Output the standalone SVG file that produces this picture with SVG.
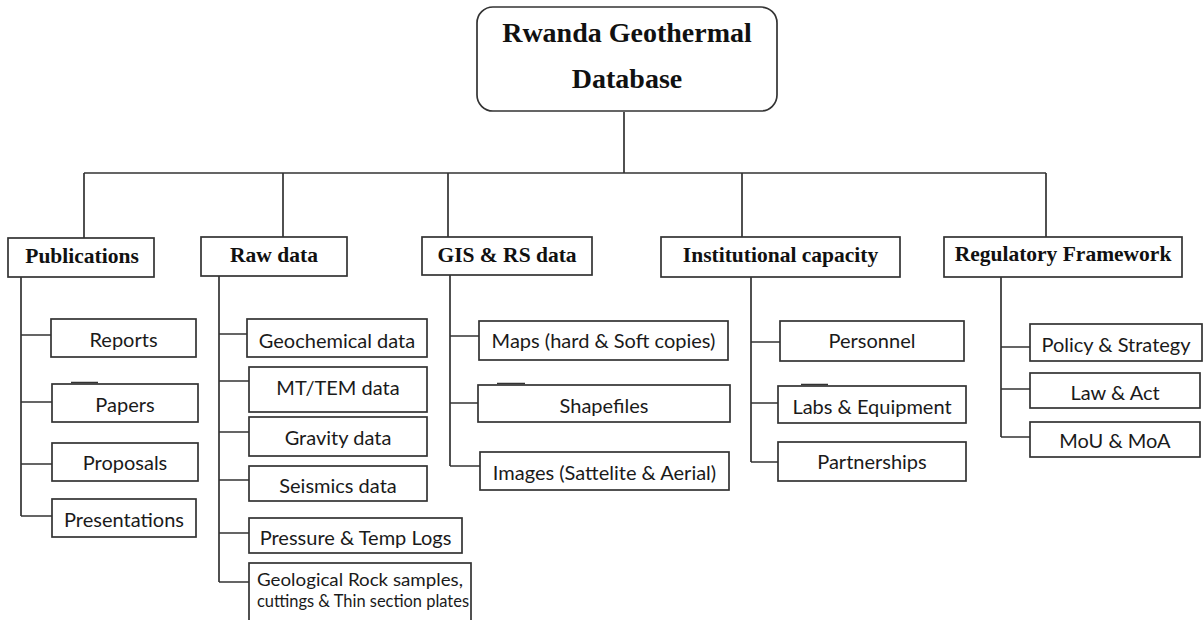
<svg xmlns="http://www.w3.org/2000/svg" width="1203" height="620" viewBox="0 0 1203 620">
<style>
.bg{fill:#ffffff}
.box{fill:#ffffff;stroke:#333333;stroke-width:1.7}
.ln{stroke:#333333;stroke-width:1.7;fill:none}
.title{font-family:"Liberation Serif","Times New Roman",serif;font-weight:bold;font-size:28px;fill:#111;text-anchor:middle}
.hd{font-family:"Liberation Serif","Times New Roman",serif;font-weight:bold;font-size:21.5px;fill:#111;text-anchor:middle}
.it{font-family:Lato,"Open Sans",sans-serif;font-size:20px;fill:#1a1a1a;text-anchor:middle}
.itl{font-family:Lato,"Open Sans",sans-serif;font-size:17px;fill:#1a1a1a}
</style>
<rect class="bg" x="0" y="0" width="1203" height="620"/>
<g id="connectors">
<path class="ln" d="M624,112 V173 M84,173 H1046 M84,173 V238 M283,173 V237 M448,173 V237 M742,173 V237 M1046,173 V237"/>
<path class="ln" d="M21,277 V516 M21,335 H51 M21,402 H52 M21,464 H52 M21,516 H52"/>
<path class="ln" d="M219,276 V582 M219,334 H247 M219,381 H249 M219,432 H249 M219,480 H249 M219,533 H249 M219,582 H249"/>
<path class="ln" d="M450,275 V466 M450,336 H479 M450,403 H478 M450,466 H480"/>
<path class="ln" d="M751,277 V462 M751,342 H780 M751,403 H778 M751,462 H778"/>
<path class="ln" d="M1001,277 V437 M1001,347 H1030 M1001,389 H1030 M1001,437 H1030"/>
<path class="ln" d="M71,382.5 H98 M497,383.5 H525 M801,384.5 H828"/>
</g>
<g id="root">
<rect class="box" x="477" y="7" width="300" height="104" rx="16" ry="16"/>
<text class="title" x="627" y="42">Rwanda Geothermal</text>
<text class="title" x="627" y="88">Database</text>
</g>
<g id="publications">
<rect class="box" x="8" y="238" width="146" height="39"/>
<text class="hd" x="82" y="263">Publications</text>
</g>
<g id="raw-data">
<rect class="box" x="201" y="237" width="146" height="39"/>
<text class="hd" x="274" y="262">Raw data</text>
</g>
<g id="gis-rs">
<rect class="box" x="422" y="237" width="170" height="38"/>
<text class="hd" x="507" y="262">GIS &amp; RS data</text>
</g>
<g id="institutional">
<rect class="box" x="661" y="237" width="239" height="40"/>
<text class="hd" x="780.5" y="262">Institutional capacity</text>
</g>
<g id="regulatory">
<rect class="box" x="944" y="237" width="238" height="40"/>
<text class="hd" x="1063" y="261">Regulatory Framework</text>
</g>
<g id="reports"><rect class="box" x="51" y="319" width="145" height="38"/><text class="it" x="123.5" y="347">Reports</text></g>
<g id="papers"><rect class="box" x="52" y="384" width="146" height="38"/><text class="it" x="125" y="412">Papers</text></g>
<g id="proposals"><rect class="box" x="52" y="443" width="146" height="38"/><text class="it" x="125" y="470">Proposals</text></g>
<g id="presentations"><rect class="box" x="52" y="499" width="144" height="38"/><text class="it" x="124" y="527">Presentations</text></g>
<g id="geochemical"><rect class="box" x="247" y="319" width="180" height="38"/><text class="it" x="337" y="348">Geochemical data</text></g>
<g id="mt-tem"><rect class="box" x="249" y="367" width="178" height="45"/><text class="it" x="338" y="395">MT/TEM data</text></g>
<g id="gravity"><rect class="box" x="249" y="417" width="178" height="39"/><text class="it" x="338" y="445">Gravity data</text></g>
<g id="seismics"><rect class="box" x="249" y="466" width="178" height="35"/><text class="it" x="338" y="493">Seismics data</text></g>
<g id="pressure"><rect class="box" x="249" y="518" width="213" height="35"/><text class="it" x="355.5" y="545">Pressure &amp; Temp Logs</text></g>
<g id="geological"><rect class="box" x="249" y="563" width="222" height="70"/><text class="itl" x="257" y="586" textLength="206" lengthAdjust="spacingAndGlyphs">Geological Rock samples,</text><text class="itl" x="257" y="607" textLength="212" lengthAdjust="spacingAndGlyphs">cuttings &amp; Thin section plates</text></g>
<g id="maps"><rect class="box" x="479" y="321" width="249" height="39"/><text class="it" x="603.5" y="348">Maps (hard &amp; Soft copies)</text></g>
<g id="shapefiles"><rect class="box" x="478" y="385" width="252" height="37"/><text class="it" x="604" y="413">Shapefiles</text></g>
<g id="images"><rect class="box" x="480" y="452" width="249" height="38"/><text class="it" x="604.5" y="480">Images (Sattelite &amp; Aerial)</text></g>
<g id="personnel"><rect class="box" x="780" y="321" width="184" height="40"/><text class="it" x="872" y="348">Personnel</text></g>
<g id="labs"><rect class="box" x="778" y="386" width="188" height="37"/><text class="it" x="872" y="414">Labs &amp; Equipment</text></g>
<g id="partnerships"><rect class="box" x="778" y="442" width="188" height="39"/><text class="it" x="872" y="469">Partnerships</text></g>
<g id="policy"><rect class="box" x="1030" y="324" width="172" height="37"/><text class="it" x="1116" y="352">Policy &amp; Strategy</text></g>
<g id="law"><rect class="box" x="1030" y="373" width="170" height="35"/><text class="it" x="1115" y="400">Law &amp; Act</text></g>
<g id="mou"><rect class="box" x="1030" y="422" width="170" height="35"/><text class="it" x="1115" y="448">MoU &amp; MoA</text></g>
</svg>
